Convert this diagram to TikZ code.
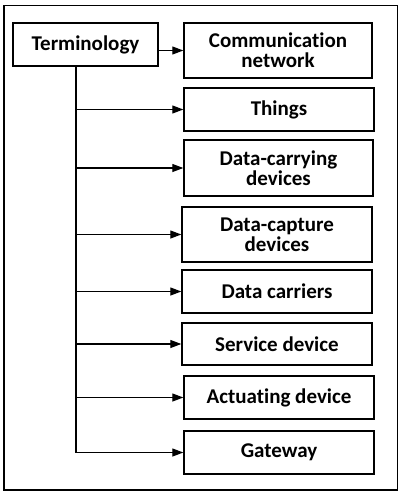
\documentclass[tikz,border=0pt]{standalone}
\usepackage{fontspec}
\setmainfont{Carlito}[Ligatures={NoCommon}]
\usetikzlibrary{arrows.meta,calc}
\begin{document}
\begin{tikzpicture}[x=1pt,y=-1pt,
  box/.style={draw=black,line width=1.4pt,minimum width=#1,inner sep=0pt,align=center,
    font=\fontsize{21}{20}\selectfont\bfseries},
  arr/.style={line width=1.2pt,-{Triangle[length=11pt,width=8pt]}},
  trunkline/.style={line width=1.5pt}]
\useasboundingbox (0,0) rectangle (401,495);
\draw[line width=1.4pt] (4,5.5) rectangle (397.5,490);
\node[box=145pt,minimum height=43pt] (term) at (85.5,44.5) {Terminology};
\node[box=188pt,minimum height=55pt] (comm) at (278,50.5) {Communication\\network};
\node[box=190pt,minimum height=43pt] (things) at (279,109.5) {Things};
\node[box=189pt,minimum height=56pt] (dcarry) at (278.5,168) {Data-carrying\\devices};
\node[box=190pt,minimum height=55pt] (dcapt) at (277,234.5) {Data-capture\\devices};
\node[box=190pt,minimum height=43pt] (dcarr) at (277,291.5) {Data carriers};
\node[box=190pt,minimum height=42pt] (serv) at (277,344) {Service device};
\node[box=190pt,minimum height=43pt] (act) at (279,397.5) {Actuating device};
\node[box=190pt,minimum height=43pt] (gate) at (279,452.5) {Gateway};
\coordinate (trunk) at ([xshift=-9.5pt]term.south);
\draw[arr] (term.east |- comm.west) -- (comm.west);
\draw[trunkline] (trunk) -- (trunk |- gate.west);
\foreach \n in {things,dcarry,dcapt,dcarr,serv,act,gate}
  \draw[arr] (trunk |- \n.west) -- (\n.west);
\end{tikzpicture}
\end{document}
